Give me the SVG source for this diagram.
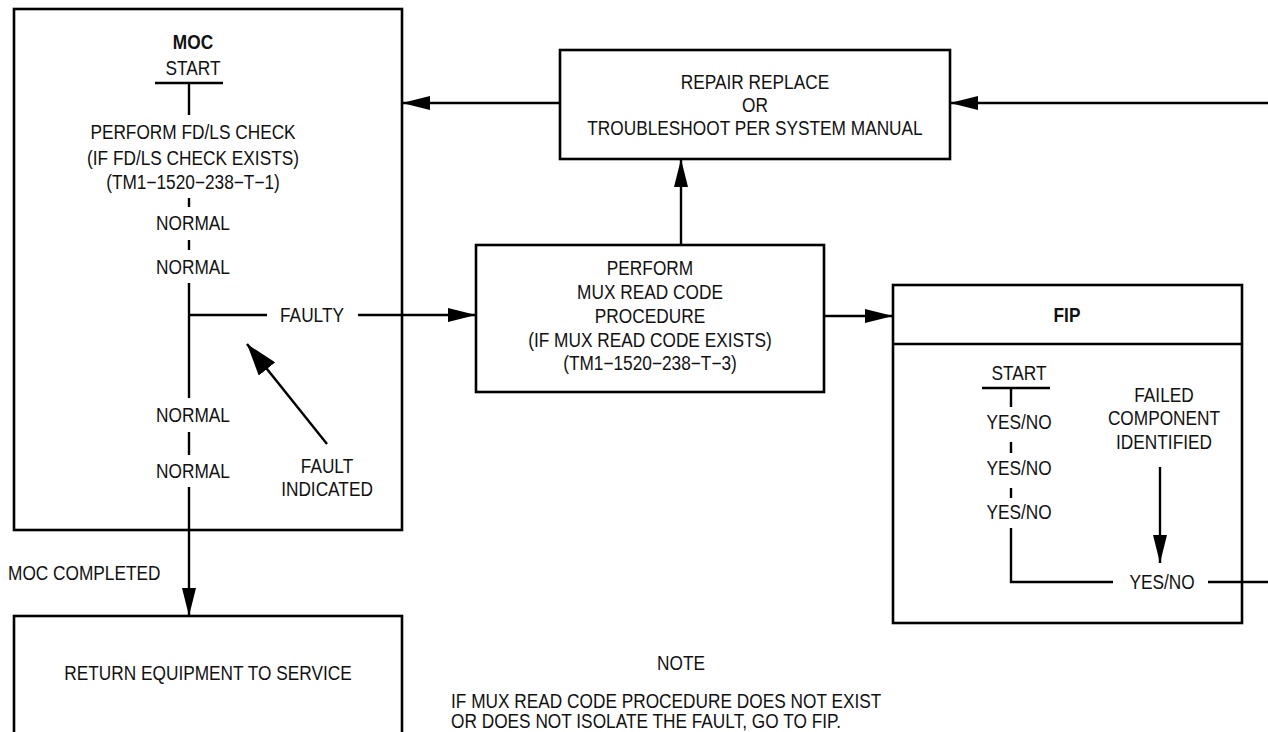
<svg xmlns="http://www.w3.org/2000/svg" width="1268" height="732" viewBox="0 0 1268 732">
<style>
  .box{fill:#fff;stroke:#000;stroke-width:2.6}
  .ln{fill:none;stroke:#000;stroke-width:2.4}
  .arr{marker-end:url(#ah)}
  .t{font-family:"Liberation Sans",Arial,sans-serif;font-size:19.5px;fill:#111;text-anchor:middle}
  .s{text-anchor:start}
  .b{font-weight:bold}
</style>
<defs>
  <marker id="ah" markerUnits="userSpaceOnUse" markerWidth="28" markerHeight="14" refX="28" refY="7" orient="auto">
    <path d="M0,0 L28,7 L0,14 Z" fill="#000"/>
  </marker>
  <marker id="ahb" markerUnits="userSpaceOnUse" markerWidth="32" markerHeight="21" refX="32" refY="10.5" orient="auto">
    <path d="M0,0 L32,10.5 L0,21 Z" fill="#000"/>
  </marker>
</defs>
<rect width="1268" height="732" fill="#fff"/>

<g id="moc">
  <rect class="box" x="14" y="9" width="388" height="521"/>
  <text class="t b" transform="translate(193,49) scale(0.886,1)">MOC</text>
  <text class="t" transform="translate(193,75) scale(0.886,1)">START</text>
  <text class="t" transform="translate(193,139) scale(0.886,1)">PERFORM FD/LS CHECK</text>
  <text class="t" transform="translate(193,165) scale(0.886,1)">(IF FD/LS CHECK EXISTS)</text>
  <text class="t" transform="translate(193,189) scale(0.886,1)">(TM1−1520−238−T−1)</text>
  <text class="t" transform="translate(193,230) scale(0.886,1)">NORMAL</text>
  <text class="t" transform="translate(193,274) scale(0.886,1)">NORMAL</text>
  <text class="t" transform="translate(312,322) scale(0.886,1)">FAULTY</text>
  <text class="t" transform="translate(193,422) scale(0.886,1)">NORMAL</text>
  <text class="t" transform="translate(193,478) scale(0.886,1)">NORMAL</text>
  <text class="t" transform="translate(327,473) scale(0.886,1)">FAULT</text>
  <text class="t" transform="translate(327,496) scale(0.886,1)">INDICATED</text>
</g>

<g id="repair">
  <rect class="box" x="560" y="50" width="390" height="109"/>
  <text class="t" transform="translate(755,89) scale(0.886,1)">REPAIR REPLACE</text>
  <text class="t" transform="translate(755,112) scale(0.886,1)">OR</text>
  <text class="t" transform="translate(755,135) scale(0.886,1)">TROUBLESHOOT PER SYSTEM MANUAL</text>
</g>

<g id="mux">
  <rect class="box" x="476" y="245" width="348" height="147"/>
  <text class="t" transform="translate(650,275) scale(0.886,1)">PERFORM</text>
  <text class="t" transform="translate(650,299) scale(0.886,1)">MUX READ CODE</text>
  <text class="t" transform="translate(650,323) scale(0.886,1)">PROCEDURE</text>
  <text class="t" transform="translate(650,347) scale(0.886,1)">(IF MUX READ CODE EXISTS)</text>
  <text class="t" transform="translate(650,370) scale(0.886,1)">(TM1−1520−238−T−3)</text>
</g>

<g id="fip">
  <rect class="box" x="893" y="285" width="349" height="338"/>
  <line class="ln" x1="893" y1="344" x2="1242" y2="344"/>
  <text class="t b" transform="translate(1067,322) scale(0.886,1)">FIP</text>
  <text class="t" transform="translate(1019,380) scale(0.886,1)">START</text>
  <text class="t" transform="translate(1019,429) scale(0.886,1)">YES/NO</text>
  <text class="t" transform="translate(1019,475) scale(0.886,1)">YES/NO</text>
  <text class="t" transform="translate(1019,519) scale(0.886,1)">YES/NO</text>
  <text class="t" transform="translate(1164,402) scale(0.886,1)">FAILED</text>
  <text class="t" transform="translate(1164,425) scale(0.886,1)">COMPONENT</text>
  <text class="t" transform="translate(1164,449) scale(0.886,1)">IDENTIFIED</text>
  <text class="t" transform="translate(1162,589) scale(0.886,1)">YES/NO</text>
</g>

<g id="return">
  <rect class="box" x="14" y="616" width="388" height="130"/>
  <text class="t" transform="translate(208,680) scale(0.886,1)">RETURN EQUIPMENT TO SERVICE</text>
</g>

<g id="labels">
  <text class="t s" transform="translate(8,580) scale(0.886,1)">MOC COMPLETED</text>
  <text class="t" transform="translate(681,670) scale(0.886,1)">NOTE</text>
  <text class="t s" transform="translate(451,708) scale(0.886,1)">IF MUX READ CODE PROCEDURE DOES NOT EXIST</text>
  <text class="t s" transform="translate(451,728) scale(0.886,1)">OR DOES NOT ISOLATE THE FAULT, GO TO FIP.</text>
</g>

<g id="connectors">
  <line class="ln arr" x1="1268" y1="103" x2="950" y2="103"/>
  <line class="ln arr" x1="560" y1="103" x2="402" y2="103"/>
  <line class="ln arr" x1="681" y1="245" x2="681" y2="159"/>
  <line class="ln" x1="189" y1="315" x2="267" y2="315"/>
  <line class="ln arr" x1="358" y1="315" x2="476" y2="315"/>
  <line class="ln arr" x1="824" y1="316" x2="893" y2="316"/>
  <line class="ln" x1="155" y1="83" x2="223" y2="83"/>
  <line class="ln" x1="189" y1="83" x2="189" y2="115"/>
  <line class="ln" x1="189" y1="198" x2="189" y2="207"/>
  <line class="ln" x1="189" y1="240" x2="189" y2="250"/>
  <line class="ln" x1="189" y1="283" x2="189" y2="398"/>
  <line class="ln" x1="189" y1="432" x2="189" y2="455"/>
  <line class="ln arr" x1="189" y1="487" x2="189" y2="616"/>
  <line class="ln" x1="327" y1="444" x2="247" y2="344" marker-end="url(#ahb)"/>
  <line class="ln" x1="982" y1="388" x2="1050" y2="388"/>
  <line class="ln" x1="1011" y1="388" x2="1011" y2="407"/>
  <line class="ln" x1="1011" y1="442" x2="1011" y2="453"/>
  <line class="ln" x1="1011" y1="488" x2="1011" y2="498"/>
  <polyline class="ln" points="1011,528 1011,582 1113,582"/>
  <line class="ln" x1="1208" y1="582" x2="1268" y2="582"/>
  <line class="ln arr" x1="1160" y1="467" x2="1160" y2="563"/>
</g>
</svg>
